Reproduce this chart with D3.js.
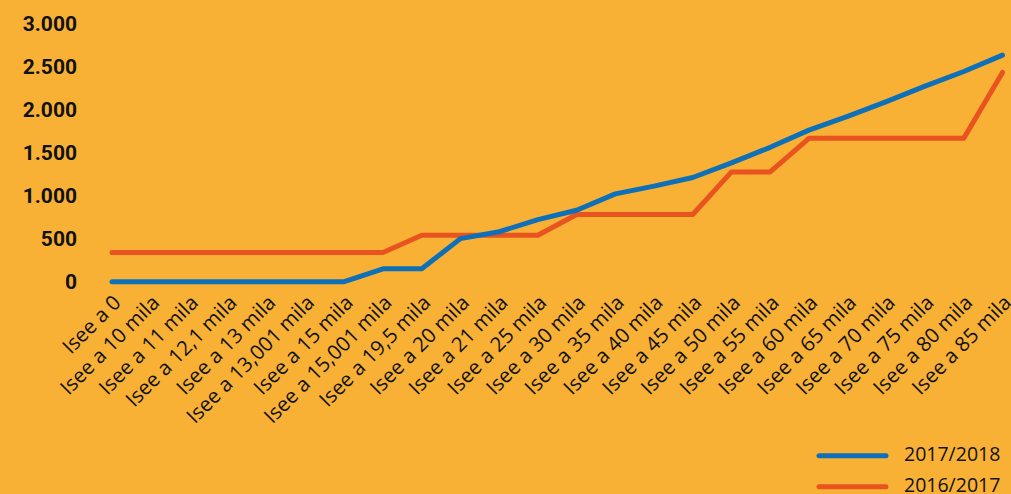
<!DOCTYPE html>
<html>
<head>
<meta charset="utf-8">
<script src="https://cdn.jsdelivr.net/npm/d3@7"></script>
<style>
  html, body { margin: 0; padding: 0; background: #f8b134; }
  svg { display: block; }
  .yax text { font-family: Roboto, sans-serif; font-weight: 700; font-size: 21px; fill: #111; }
  .xax text { font-family: "Open Sans", sans-serif; font-size: 20.5px; fill: #111; }
  .legend text { font-family: "Open Sans", sans-serif; font-size: 19.5px; fill: #111; }
</style>
</head>
<body>
<div id="chart"></div>
<script>
// fasce Isee
const categories = ["Isee a 0", "Isee a 10 mila", "Isee a 11 mila", "Isee a 12,1 mila", "Isee a 13 mila",
  "Isee a 13,001 mila", "Isee a 15 mila", "Isee a 15,001 mila", "Isee a 19,5 mila", "Isee a 20 mila",
  "Isee a 21 mila", "Isee a 25 mila", "Isee a 30 mila", "Isee a 35 mila", "Isee a 40 mila",
  "Isee a 45 mila", "Isee a 50 mila", "Isee a 55 mila", "Isee a 60 mila", "Isee a 65 mila",
  "Isee a 70 mila", "Isee a 75 mila", "Isee a 80 mila", "Isee a 85 mila"];

const values2017_2018 = [0, 0, 0, 0, 0, 0, 0, 150, 150, 500, 580, 720, 830, 1020, 1110, 1210,
  1380, 1560, 1760, 1920, 2090, 2270, 2440, 2630];
const values2016_2017 = [340, 340, 340, 340, 340, 340, 340, 340, 540, 540, 540, 540, 780, 780, 780, 780,
  1275, 1275, 1665, 1665, 1665, 1665, 1665, 2430];

const yTicks = [0, 500, 1000, 1500, 2000, 2500, 3000];
const yTickLabels = ["0", "500", "1.000", "1.500", "2.000", "2.500", "3.000"];

const seriesNames = ["2017/2018", "2016/2017"];
const seriesColors = ["#0e70b8", "#e9531f"];

const width = 1011, height = 494;

const svg = d3.select("#chart").append("svg")
  .attr("width", width)
  .attr("height", height);

const x = d3.scalePoint().domain(categories).range([112, 1002.5]);
const y = d3.scaleLinear().domain([0, 3000]).range([281.7, 23.3]);

// asse y
svg.append("g")
  .attr("class", "yax")
  .attr("transform", "translate(77,0)")
  .call(d3.axisLeft(y).tickValues(yTicks).tickSize(0).tickPadding(0)
    .tickFormat((d, i) => yTickLabels[i]))
  .call(g => g.select(".domain").remove());

// etichette x ruotate
svg.append("g")
  .attr("class", "xax")
  .selectAll("text")
  .data(categories)
  .join("text")
  .attr("text-anchor", "end")
  .attr("transform", d => `translate(${x(d) + 10}, 304) rotate(-45)`)
  .text(d => d);

const line = d3.line()
  .x((d, i) => x(categories[i]))
  .y(d => y(d));

const series = [values2016_2017, values2017_2018];
const colors = [seriesColors[1], seriesColors[0]];

svg.selectAll(".serie")
  .data(series)
  .join("path")
  .attr("class", "serie")
  .attr("fill", "none")
  .attr("stroke", (d, i) => colors[i])
  .attr("stroke-width", 5)
  .attr("stroke-linecap", "round")
  .attr("stroke-linejoin", "round")
  .attr("d", line);

// legenda
const legend = svg.append("g").attr("class", "legend");
const leg = legend.selectAll("g")
  .data(seriesNames)
  .join("g")
  .attr("transform", (d, i) => `translate(0, ${455.7 + i * 31})`);

leg.append("line")
  .attr("x1", 819).attr("x2", 886)
  .attr("stroke", (d, i) => seriesColors[i])
  .attr("stroke-width", 5)
  .attr("stroke-linecap", "round");

leg.append("text")
  .attr("x", 904)
  .attr("y", -2)
  .attr("dy", "0.35em")
  .text(d => d);
</script>
</body>
</html>
